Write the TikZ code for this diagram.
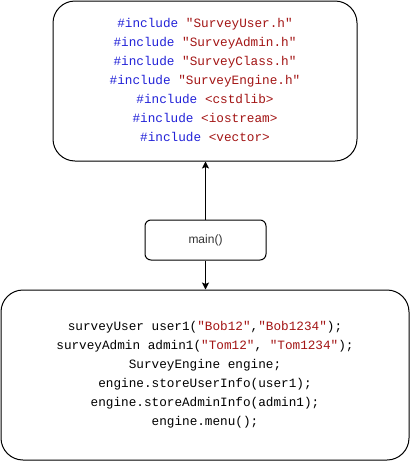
\documentclass[tikz,border=0pt]{standalone}
\usepackage{fontspec}
\setmainfont{Liberation Sans}
\setmonofont{Liberation Mono}
\usetikzlibrary{arrows.meta}
\definecolor{kw}{HTML}{2222D8}
\definecolor{str}{HTML}{A31515}
\definecolor{txt}{HTML}{333333}
\begin{document}
\begin{tikzpicture}[x=1pt,y=-1pt,
  bigbox/.style={draw=black,line width=1pt,fill=white,rounded corners=22pt,inner sep=0pt},
  smallbox/.style={draw=black,line width=1pt,fill=white,rounded corners=6pt,inner sep=0pt},
  code/.style={font=\fontsize{12.7}{19}\selectfont\ttfamily,align=center,text=black},
  conn/.style={line width=1pt,-{Stealth[length=7pt,width=7pt,inset=1.5pt]}}]
\useasboundingbox (0,0) rectangle (411,461);
\node[bigbox,minimum width=304pt,minimum height=160pt] (inc) at (205,81) {};
\node[code] (inctext) at (205,79.5) {%
\textcolor{kw}{\#include} \textcolor{str}{"SurveyUser.h"}\\
\textcolor{kw}{\#include} \textcolor{str}{"SurveyAdmin.h"}\\
\textcolor{kw}{\#include} \textcolor{str}{"SurveyClass.h"}\\
\textcolor{kw}{\#include} \textcolor{str}{"SurveyEngine.h"}\\
\textcolor{kw}{\#include} \textcolor{str}{<cstdlib>}\\
\textcolor{kw}{\#include} \textcolor{str}{<iostream>}\\
\textcolor{kw}{\#include} \textcolor{str}{<vector>}};
\node[smallbox,minimum width=121pt,minimum height=40pt,font=\fontsize{12}{14}\selectfont,text=txt] (main) at (205.5,240) {main()};
\node[bigbox,minimum width=408pt,minimum height=170pt] (body) at (205,375) {};
\node[code] (bodytext) at (205,375) {%
surveyUser user1(\textcolor{str}{"Bob12"},\textcolor{str}{"Bob1234"});\\
surveyAdmin admin1(\textcolor{str}{"Tom12"}, \textcolor{str}{"Tom1234"});\\
SurveyEngine engine;\\
engine.storeUserInfo(user1);\\
engine.storeAdminInfo(admin1);\\
engine.menu();};
\draw[conn] (main.north) -- (main.north |- inc.south);
\draw[conn] (main.south) -- (main.south |- body.north);
\end{tikzpicture}
\end{document}
